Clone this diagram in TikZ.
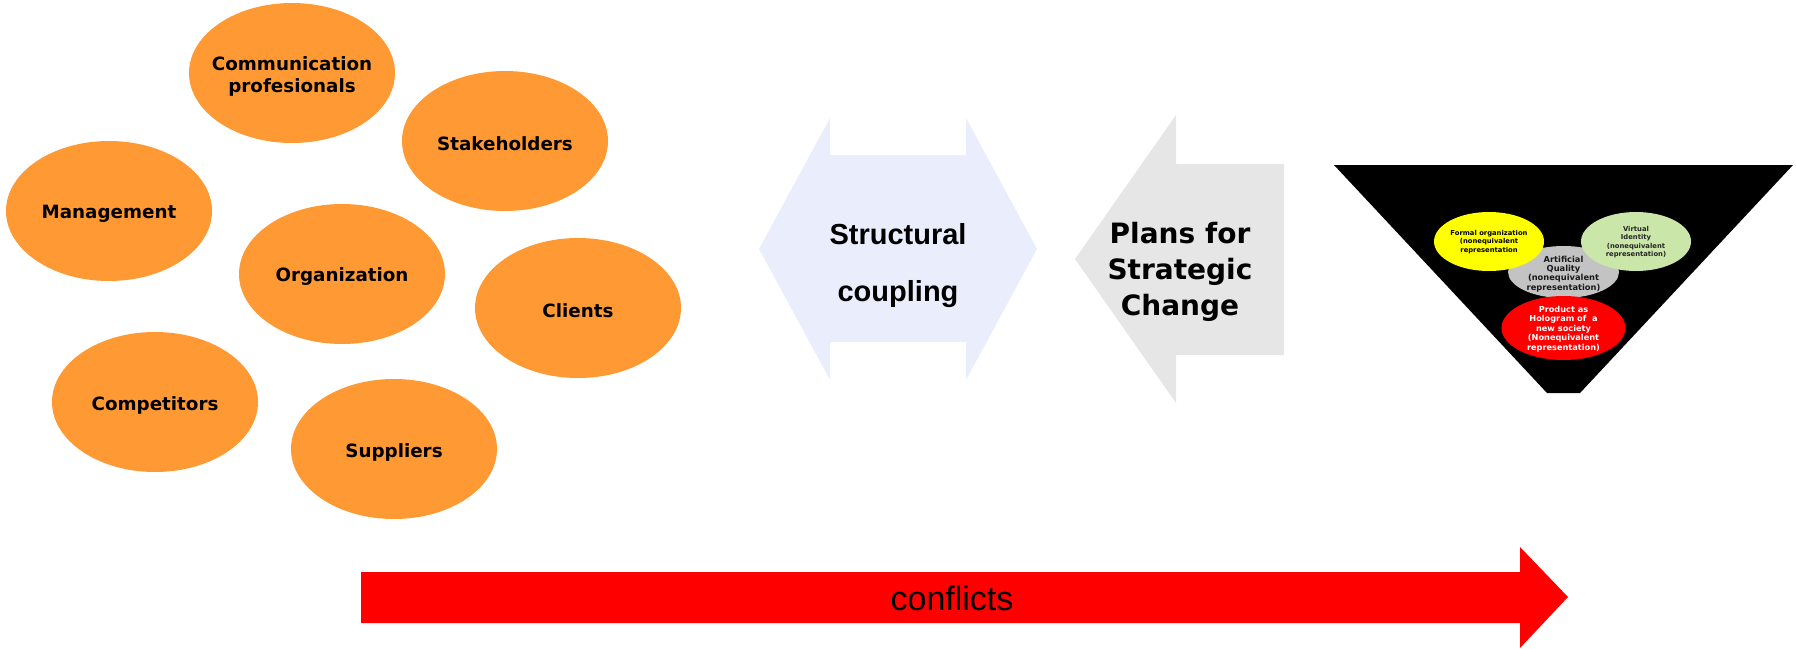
\documentclass[tikz,border=0pt]{standalone}
\usepackage{fontspec}
\setmainfont{DejaVu Sans}
\newfontfamily\arialfont{Liberation Sans}
\usetikzlibrary{shapes.geometric}
\definecolor{orng}{HTML}{FF9933}
\definecolor{lblue}{HTML}{EAEEFC}
\definecolor{lgray}{HTML}{E6E6E6}
\definecolor{cred}{HTML}{FF0000}
\definecolor{cyel}{HTML}{FFFF00}
\definecolor{cgreen}{HTML}{CAE6A8}
\definecolor{cgray}{HTML}{C3C3C3}
\tikzset{
  orel/.style={ellipse, fill=orng, draw=none, minimum width=206pt, minimum height=140pt,
    inner sep=0pt},
  oltxt/.style={align=center, inner sep=0pt, font=\bfseries\fontsize{18.3}{22}\selectfont},
  smallel/.style={ellipse, draw=none, inner sep=0pt},
  smtxt/.style={align=center, inner sep=0pt},
  bigtxt/.style={align=center, inner sep=0pt},
}
\begin{document}
\begin{tikzpicture}[x=1pt,y=-1pt]
\useasboundingbox (0,0) rectangle (1796,648);
% orange ellipses
\node[orel] (comm) at (292,73) {};
\node[orel] (stake) at (505,141) {};
\node[orel] (mgmt) at (109,211) {};
\node[orel] (org) at (342,274) {};
\node[orel] (cli) at (578,308) {};
\node[orel] (comp) at (155,402) {};
\node[orel] (sup) at (394,449) {};
\node[oltxt] (commt) at ([yshift=-3pt]comm.center) {Communication\\profesionals};
\node[oltxt] (staket) at ([yshift=-3pt]stake.center) {Stakeholders};
\node[oltxt] (mgmtt) at ([yshift=-3pt]mgmt.center) {Management};
\node[oltxt] (orgt) at ([yshift=-3pt]org.center) {Organization};
\node[oltxt] (clit) at ([yshift=-3pt]cli.center) {Clients};
\node[oltxt] (compt) at ([yshift=-3pt]comp.center) {Competitors};
\node[oltxt] (supt) at ([yshift=-3pt]sup.center) {Suppliers};
% structural coupling double arrow
\fill[lblue] (759,249) -- (830,118) -- (830,155) -- (966,155) -- (966,118) -- (1037,249)
  -- (966,380) -- (966,342) -- (830,342) -- (830,380) -- cycle;
\node[bigtxt, font=\arialfont\bfseries\fontsize{29}{57}\selectfont] (sc) at (898,266) {Structural\\coupling};
% plans arrow
\fill[lgray] (1075,259) -- (1176,115) -- (1176,164) -- (1284,164) -- (1284,355) -- (1176,355)
  -- (1176,403) -- cycle;
\node[bigtxt, font=\bfseries\fontsize{28}{36}\selectfont] (plans) at (1180,272) {Plans for\\Strategic\\Change};
% triangle
\fill[black] (1334,165) -- (1793,165) -- (1580,393) -- (1547,393) -- cycle;
\node[smallel, fill=cgray, minimum width=111pt, minimum height=52pt] (aq) at (1563.5,272) {};
\node[smallel, fill=cyel, minimum width=110pt, minimum height=59pt] (fo) at (1489,241.5) {};
\node[smallel, fill=cgreen, minimum width=110pt, minimum height=59pt] (vi) at (1636,241.5) {};
\node[smallel, fill=cred, minimum width=124pt, minimum height=64pt] (prod) at (1563.5,328) {};
\node[smtxt, font=\bfseries\fontsize{8.3}{9.4}\selectfont, text=black!90] (aqt) at (1563.5,274) {Artificial\\Quality\\(nonequivalent\\representation)};
\node[smtxt, font=\bfseries\fontsize{6.8}{8.3}\selectfont, text=black] (fot) at (1489,242) {Formal organization\\(nonequivalent\\representation};
\node[smtxt, font=\bfseries\fontsize{6.8}{8.4}\selectfont, text=black!85] (vit) at (1636,242) {Virtual\\Identity\\(nonequivalent\\representation)};
\node[smtxt, font=\bfseries\fontsize{8.2}{9.5}\selectfont, text=white] (prodt) at (1563.5,329) {Product as\\Hologram of~ a\\new society\\(Nonequivalent\\representation)};
% conflicts arrow
\fill[cred] (361,572) -- (1520,572) -- (1520,547) -- (1568,597) -- (1520,648) -- (1520,623)
  -- (361,623) -- cycle;
\node[bigtxt, font=\arialfont\fontsize{34}{40}\selectfont] (confl) at (952,598) {conflicts};
\end{tikzpicture}
\end{document}
